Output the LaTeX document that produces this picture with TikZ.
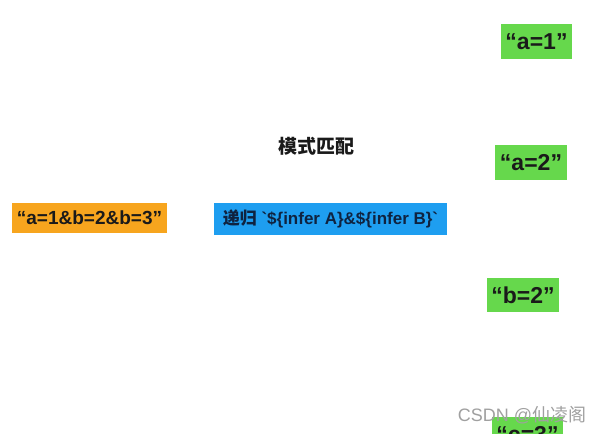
\documentclass[tikz,border=0pt]{standalone}
\usepackage{fontspec}
\setmainfont{Liberation Sans}
\newfontfamily\cjk{Noto Sans CJK SC}
\definecolor{orangebox}{HTML}{F7A51E}
\definecolor{bluebox}{HTML}{1E9EF0}
\definecolor{greenbox}{HTML}{66D84C}
\definecolor{darktext}{HTML}{1A1A1A}
\definecolor{navytext}{HTML}{0F2340}
\definecolor{wmgray}{HTML}{A0A0A0}
\begin{document}
\begin{tikzpicture}[x=1pt,y=1pt,
  lbl/.style={inner sep=0pt, outer sep=0pt, text=darktext},
  orangelbl/.style={lbl, fill=orangebox, minimum width=155pt, minimum height=30pt, font=\fontsize{19}{21}\selectfont\bfseries},
  bluelbl/.style={lbl, fill=bluebox, text=navytext, minimum width=233pt, minimum height=32pt, font=\fontsize{17}{19}\selectfont\bfseries},
  greenlbl/.style={lbl, fill=greenbox, minimum width=71pt, minimum height=35pt, font=\fontsize{23}{25}\selectfont\bfseries},
  title/.style={lbl, font=\cjk\fontsize{19}{21}\selectfont\bfseries},
  watermark/.style={lbl, text=wmgray, font=\fontsize{18}{20}\selectfont}
]
\fill[white] (0,0) rectangle (603,434);
\useasboundingbox (0,0) rectangle (603,434);
\clip (0,0) rectangle (603,434);
\node[title] (t) at (316,288) {模式匹配};
\node[orangelbl] (src) at (89.5,216) {“a=1\&b=2\&b=3”};
\node[bluelbl] (rec) at (330.5,215) {{\cjk\bfseries 递归} \textasciigrave\$\{infer A\}\&\$\{infer B\}\textasciigrave};
\node[greenlbl] (a1) at (536.5,392.5) {“a=1”};
\node[greenlbl, minimum width=72pt] (a2) at (531,271.5) {“a=2”};
\node[greenlbl, minimum width=72pt, minimum height=34pt] (b2) at (523,139) {“b=2”};
\node[greenlbl] (c3) at (527.5,-0.5) {“c=3”};
\node[watermark] (wm) at (522,19) {CSDN @{\cjk 仙凌阁}};
\end{tikzpicture}
\end{document}
